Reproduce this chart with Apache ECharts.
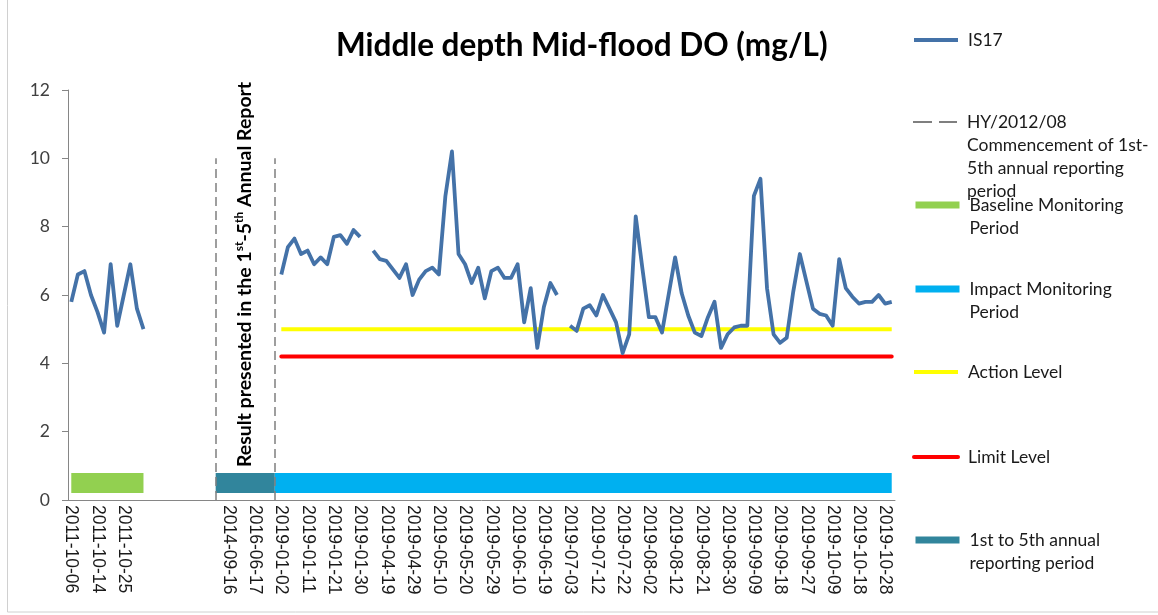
<!DOCTYPE html>
<html>
<head>
<meta charset="utf-8">
<script src="https://cdn.jsdelivr.net/npm/echarts@6/dist/echarts.min.js"></script>
<style>
html, body { margin: 0; padding: 0; background: #fff; }
#main { width: 1158px; height: 615px; }
</style>
</head>
<body>
<div id="main"></div>
<script>
// sampling dates on the category axis (blank slots keep the gap between periods)
var baselineDates = ['2011-10-06', '2011-10-08', '2011-10-10', '2011-10-12', '2011-10-14', '2011-10-17',
  '2011-10-19', '2011-10-21', '2011-10-25', '2011-10-27', '2011-10-29', '2011-10-31'];
var gapDates = ['', '', '', '', '', '', '', '', '', ''];
var reportDates = ['', '2013-04-10', '2014-09-16', '2015-02-10', '2015-07-08', '2015-12-14',
  '2016-06-17', '2017-01-20', '2017-08-15', '2018-03-09'];
var impactDates = ['2019-01-02', '2019-01-04', '2019-01-07', '2019-01-09', '2019-01-11', '2019-01-14',
  '2019-01-16', '2019-01-18', '2019-01-21', '2019-01-23', '2019-01-25', '2019-01-28', '2019-01-30',
  '2019-02-01', '2019-04-15', '2019-04-17', '2019-04-19', '2019-04-22', '2019-04-24', '2019-04-26',
  '2019-04-29', '2019-05-02', '2019-05-04', '2019-05-07', '2019-05-10', '2019-05-13', '2019-05-15',
  '2019-05-17', '2019-05-20', '2019-05-22', '2019-05-24', '2019-05-27', '2019-05-29', '2019-05-31',
  '2019-06-03', '2019-06-05', '2019-06-10', '2019-06-12', '2019-06-14', '2019-06-17', '2019-06-19',
  '2019-06-21', '2019-06-24', '2019-06-28', '2019-07-03', '2019-07-05', '2019-07-08', '2019-07-10',
  '2019-07-12', '2019-07-15', '2019-07-17', '2019-07-19', '2019-07-22', '2019-07-24', '2019-07-26',
  '2019-07-29', '2019-08-02', '2019-08-05', '2019-08-07', '2019-08-09', '2019-08-12', '2019-08-14',
  '2019-08-16', '2019-08-19', '2019-08-21', '2019-08-23', '2019-08-26', '2019-08-28', '2019-08-30',
  '2019-09-02', '2019-09-04', '2019-09-06', '2019-09-09', '2019-09-11', '2019-09-13', '2019-09-16',
  '2019-09-18', '2019-09-20', '2019-09-23', '2019-09-25', '2019-09-27', '2019-09-30', '2019-10-02',
  '2019-10-04', '2019-10-09', '2019-10-11', '2019-10-14', '2019-10-16', '2019-10-18', '2019-10-21',
  '2019-10-23', '2019-10-25', '2019-10-28', '2019-10-30'];

// IS17 DO readings (mg/L)
var baselineDO = [5.8, 6.6, 6.7, 6.0, 5.5, 4.9, 6.9, 5.1, 6.0, 6.9, 5.6, 5.0];
var impactDO = [6.6, 7.4, 7.65, 7.2, 7.3, 6.9, 7.1, 6.9, 7.7, 7.75, 7.5, 7.9, 7.7,
  null, 7.3, 7.05, 7.0, 6.75, 6.5, 6.9, 6.0, 6.45, 6.7, 6.8, 6.6, 8.9, 10.2,
  7.2, 6.9, 6.35, 6.8, 5.9, 6.7, 6.8, 6.5, 6.5, 6.9, 5.2, 6.2, 4.45, 5.65,
  6.35, 6.0, null, 5.1, 4.95, 5.6, 5.7, 5.4, 6.0, 5.6, 5.2, 4.3, 4.85, 8.3,
  6.8, 5.35, 5.35, 4.9, 6.0, 7.1, 6.05, 5.4, 4.9, 4.8, 5.35, 5.8, 4.45, 4.85,
  5.05, 5.1, 5.1, 8.9, 9.4, 6.2, 4.85, 4.6, 4.75, 6.1, 7.2, 6.4, 5.6, 5.45,
  5.4, 5.1, 7.05, 6.2, 5.95, 5.75, 5.8, 5.8, 6.0, 5.75, 5.8];

var actionLevel = 5.0;
var limitLevel = 4.2;
var periodBar = 0.5;   // height at which the period bars sit
var dashTop = 10;      // top of the dashed markers

var categories = baselineDates.concat(gapDates, reportDates, impactDates);
var N = categories.length;
var impactStart = baselineDates.length + gapDates.length + reportDates.length;
var reportStart = baselineDates.length + gapDates.length;
var reportEnd = impactStart - 1;

function place(vals, start) {
  var arr = [];
  for (var i = 0; i < N; i++) arr.push(null);
  for (var k = 0; k < vals.length; k++) arr[start + k] = vals[k];
  return arr;
}
function level(v, from, to) {
  var arr = [];
  for (var i = 0; i < N; i++) arr.push(i >= from && i <= to ? v : null);
  return arr;
}

var is17 = place(baselineDO, 0);
for (var k = 0; k < impactDO.length; k++) is17[impactStart + k] = impactDO[k];

var names = {
  is17: 'IS17',
  hy: 'HY/2012/08 Commencement of 1st-5th annual reporting period',
  base: 'Baseline Monitoring Period',
  impact: 'Impact Monitoring Period',
  action: 'Action Level',
  limit: 'Limit Level',
  rep: '1st to 5th annual reporting period'
};
var legendText = {};
legendText[names.hy] = 'HY/2012/08\nCommencement of 1st-\n5th annual reporting\nperiod';
legendText[names.base] = 'Baseline Monitoring\nPeriod';
legendText[names.impact] = 'Impact Monitoring\nPeriod';
legendText[names.rep] = '1st to 5th annual\nreporting period';

var LH = 23;
// one legend per entry, first text line level with the icon
function legendAt(name, yc, width, dash) {
  var txt = legendText[name] || name;
  var n = txt.split('\n').length;
  var lead = '';
  for (var i = 1; i < n; i++) lead += '\n';
  var lg = {
    data: [name],
    left: 912,
    top: yc - (2 * n - 1) * LH / 2,
    padding: 0,
    itemWidth: 44,
    itemHeight: 8,
    selectedMode: false,
    formatter: function () { return lead + txt; },
    itemStyle: { opacity: 0 },
    lineStyle: { width: width },
    textStyle: {
      fontFamily: 'Lato', fontSize: 17.5, color: '#1a1a1a',
      lineHeight: LH, padding: [0, 0, 0, 5]
    }
  };
  if (dash) lg.lineStyle.type = dash;
  return lg;
}

var chart = echarts.init(document.getElementById('main'));
var option = {
  animation: false,
  backgroundColor: '#fff',
  title: {
    text: 'Middle depth Mid-flood DO (mg/L)',
    left: 336, top: 30, padding: 0,
    textStyle: { fontFamily: 'Lato', fontWeight: 'bold', fontSize: 31.5, color: '#000' }
  },
  grid: { left: 68, right: 263, top: 90, bottom: 115 },
  legend: [
    legendAt(names.is17, 40, 4),
    legendAt(names.hy, 122, 2, [19, 7]),
    legendAt(names.base, 205, 7),
    legendAt(names.impact, 289, 7),
    legendAt(names.action, 372, 4),
    legendAt(names.limit, 457, 4),
    legendAt(names.rep, 540, 7)
  ],
  xAxis: {
    type: 'category',
    data: categories,
    boundaryGap: true,
    axisLine: { lineStyle: { color: '#868686', width: 1 } },
    axisTick: { interval: 3, length: 5, lineStyle: { color: '#868686' } },
    axisLabel: {
      interval: 3, rotate: -90, margin: 5,
      fontFamily: 'Liberation Sans', fontSize: 17.5, color: '#1a1a1a'
    }
  },
  yAxis: {
    type: 'value', min: 0, max: 12, interval: 2,
    axisLine: { show: true, lineStyle: { color: '#868686', width: 1 } },
    axisTick: { show: true, length: 6, lineStyle: { color: '#868686' } },
    splitLine: { show: false },
    axisLabel: { margin: 18, fontFamily: 'Lato', fontSize: 17.5, color: '#404040' }
  },
  series: [
    {
      name: names.base, type: 'line', data: level(periodBar, 0, baselineDates.length - 1),
      symbol: 'none', lineStyle: { color: '#92D050', width: 20, cap: 'butt' },
      itemStyle: { color: '#92D050' }, silent: true, z: 2
    },
    {
      name: names.impact, type: 'line', data: level(periodBar, reportEnd, N - 1),
      symbol: 'none', lineStyle: { color: '#00B0F0', width: 20, cap: 'butt' },
      itemStyle: { color: '#00B0F0' }, silent: true, z: 2
    },
    {
      name: names.rep, type: 'line', data: level(periodBar, reportStart, reportEnd),
      symbol: 'none', lineStyle: { color: '#31859C', width: 20, cap: 'butt' },
      itemStyle: { color: '#31859C' }, silent: true, z: 3
    },
    {
      name: names.action, type: 'line', data: level(actionLevel, impactStart, N - 1),
      symbol: 'none', lineStyle: { color: '#FFFF00', width: 4 },
      itemStyle: { color: '#FFFF00' }, silent: true, z: 3
    },
    {
      name: names.limit, type: 'line', data: level(limitLevel, impactStart, N - 1),
      symbol: 'none', lineStyle: { color: '#FF0000', width: 4, cap: 'round' },
      itemStyle: { color: '#FF0000' }, silent: true, z: 3
    },
    {
      name: names.hy, type: 'line', data: [],
      symbol: 'none', lineStyle: { color: '#7f7f7f', width: 1.5, type: [9, 5] },
      itemStyle: { color: '#7f7f7f' },
      markLine: {
        silent: true, symbol: 'none', label: { show: false },
        lineStyle: { color: '#7f7f7f', width: 1.5, type: [9, 5] },
        data: [
          [{ coord: [reportStart, 0] }, { coord: [reportStart, dashTop] }],
          [{ coord: [reportEnd, 0] }, { coord: [reportEnd, dashTop] }]
        ]
      },
      z: 4
    },
    {
      name: names.is17, type: 'line', data: is17, connectNulls: false,
      symbol: 'none', lineStyle: { color: '#4472A8', width: 3.8, join: 'round' },
      itemStyle: { color: '#4472A8' }, z: 5
    }
  ]
};
chart.setOption(option);

// rotated note between the two dashed markers
var p1 = chart.convertToPixel({ xAxisIndex: 0, yAxisIndex: 0 }, [reportStart, 6]);
var p2 = chart.convertToPixel({ xAxisIndex: 0, yAxisIndex: 0 }, [reportEnd, 6.6]);
chart.setOption({
  graphic: [
    {
      type: 'rect', silent: true,
      shape: { x: 7.5, y: -2, width: 1200, height: 614 },
      style: { fill: 'none', stroke: '#d0d0d0', lineWidth: 1 }
    },
    {
      type: 'text', silent: true,
      x: (p1[0] + p2[0]) / 2, y: p2[1],
      rotation: Math.PI / 2,
      style: {
        text: '{b|Result presented in the 1}{s|st}{b|-5}{s|th}{b| Annual Report}',
        align: 'center', verticalAlign: 'middle',
        rich: {
          b: { fontFamily: 'Lato', fontSize: 19.5, fontWeight: 'bold', color: '#000', lineHeight: 24 },
          s: { fontFamily: 'Lato', fontSize: 12, fontWeight: 'bold', color: '#000', lineHeight: 24, verticalAlign: 'top' }
        }
      }
    }
  ]
});
</script>
</body>
</html>
